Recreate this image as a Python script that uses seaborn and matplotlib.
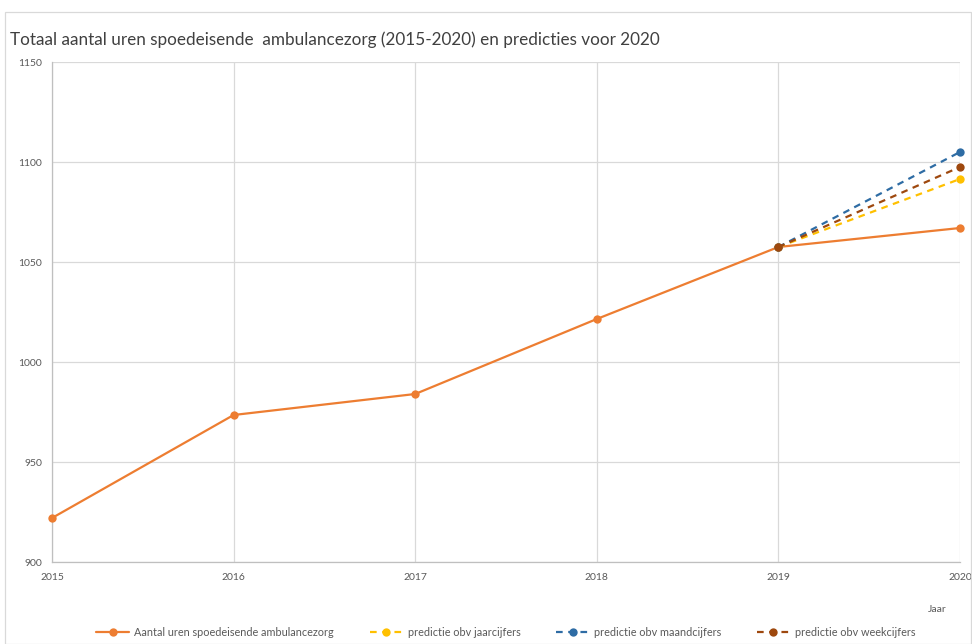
import pandas as pd
import matplotlib.pyplot as plt
import seaborn as sns
from matplotlib.patches import Rectangle

# Data
years = [2015, 2016, 2017, 2018, 2019, 2020]
hours = [922, 973.5, 984, 1021.5, 1057.5, 1067]

pred_years = [2019, 2020]
pred_jaar = [1057.5, 1091.5]
pred_maand = [1057.5, 1105]
pred_week = [1057.5, 1097.5]

labels = {
    "hours": "Aantal uren spoedeisende ambulancezorg",
    "jaar": "predictie obv jaarcijfers",
    "maand": "predictie obv maandcijfers",
    "week": "predictie obv weekcijfers",
}
colors = {"hours": "#ED7D31", "jaar": "#FFC000", "maand": "#2E6CA4", "week": "#9E480E"}

sns.set_style("white")
plt.rcParams["font.family"] = ["Lato", "DejaVu Sans"]

fig = plt.figure(figsize=(9.72, 6.44), dpi=100)
ax = fig.add_axes([52 / 972, 82 / 644, 908 / 972, 500 / 644])

hist_df = pd.DataFrame({"jaar": years, "uren": hours})
sns.lineplot(data=hist_df, x="jaar", y="uren", ax=ax, color=colors["hours"],
             marker="o", markersize=6, markeredgewidth=0, linewidth=1.6,
             label=labels["hours"], clip_on=False, zorder=3)

for key, vals in [("jaar", pred_jaar), ("maand", pred_maand), ("week", pred_week)]:
    pdf = pd.DataFrame({"jaar": pred_years, "uren": vals})
    sns.lineplot(data=pdf, x="jaar", y="uren", ax=ax, color=colors[key],
                 marker="o", markersize=6, markeredgewidth=0, linewidth=1.6,
                 linestyle=(0, (3, 2.5)), label=labels[key], clip_on=False, zorder=3)

ax.set_xlim(2015, 2020)
ax.set_ylim(900, 1150)
ax.set_xticks(years)
ax.set_yticks(range(900, 1151, 50))
ax.grid(True, color="#D9D9D9", linewidth=0.9)
for side in ["top", "right"]:
    ax.spines[side].set_visible(False)
for side in ["left", "bottom"]:
    ax.spines[side].set_color("#BFBFBF")
    ax.spines[side].set_linewidth(0.9)
ax.tick_params(axis="both", length=0, labelsize=7.5, labelcolor="#595959")
ax.tick_params(axis="x", pad=8)
ax.tick_params(axis="y", pad=7)
ax.set_ylabel("")
ax.set_xlabel("Jaar", fontsize=7.5, color="#595959")
ax.xaxis.set_label_coords(0.975, -0.085)

fig.text(10 / 972, 1 - 40 / 644, "Totaal aantal uren spoedeisende  ambulancezorg (2015-2020) en predicties voor 2020",
         fontsize=12.3, color="#404040", va="center", ha="left")

handles, lbls = ax.get_legend_handles_labels()
ax.legend(handles, lbls, loc="center", bbox_to_anchor=(0.5, -0.14), ncol=4,
          frameon=False, fontsize=7.8, labelcolor="#595959", handlelength=3.0,
          columnspacing=3.3, handletextpad=0.5)

fig.add_artist(Rectangle((5 / 972, 0), 966 / 972, 1 - 12 / 644, transform=fig.transFigure,
                         fill=False, edgecolor="#D9D9D9", linewidth=0.9))

fig.savefig("out.png", dpi=100)
